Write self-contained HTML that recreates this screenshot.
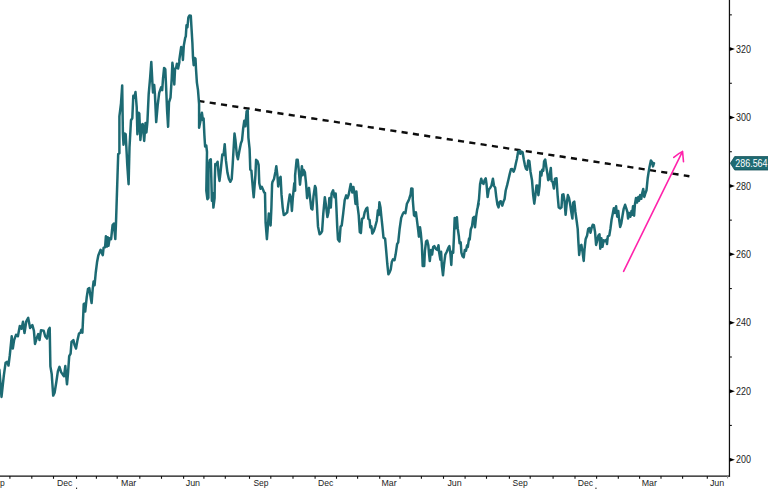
<!DOCTYPE html>
<html><head><meta charset="utf-8"><title>Chart</title>
<style>
html,body{margin:0;padding:0;background:#fff;}
body{width:768px;height:489px;overflow:hidden;position:relative;}
svg{display:block;position:absolute;left:0;top:0;}
text{font-family:"Liberation Sans","DejaVu Sans",sans-serif;font-size:9.8px;fill:#1c1c1c;}
</style></head><body>
<svg width="768" height="489" viewBox="0 0 768 489">
<defs><filter id="soft" x="-5%" y="-5%" width="110%" height="110%"><feGaussianBlur stdDeviation="0.45"/></filter></defs>
<rect width="768" height="489" fill="#ffffff"/>
<!-- axes -->
<line x1="729.45" y1="0" x2="729.45" y2="476.6" stroke="#111" stroke-width="1.25"/>
<line x1="0" y1="476.0" x2="730.0500000000001" y2="476.0" stroke="#111" stroke-width="1.25"/>
<!-- x ticks -->
<line x1="9.9" y1="476.0" x2="9.9" y2="478.8" stroke="#111" stroke-width="1.1"/>
<line x1="31.8" y1="476.0" x2="31.8" y2="478.8" stroke="#111" stroke-width="1.1"/>
<line x1="53.5" y1="476.0" x2="53.5" y2="478.8" stroke="#111" stroke-width="1.1"/>
<line x1="76.5" y1="476.0" x2="76.5" y2="478.8" stroke="#111" stroke-width="1.1"/>
<line x1="96.4" y1="476.0" x2="96.4" y2="478.8" stroke="#111" stroke-width="1.1"/>
<line x1="117.2" y1="476.0" x2="117.2" y2="478.8" stroke="#111" stroke-width="1.1"/>
<line x1="139.8" y1="476.0" x2="139.8" y2="478.8" stroke="#111" stroke-width="1.1"/>
<line x1="161.5" y1="476.0" x2="161.5" y2="478.8" stroke="#111" stroke-width="1.1"/>
<line x1="183.6" y1="476.0" x2="183.6" y2="478.8" stroke="#111" stroke-width="1.1"/>
<line x1="203.9" y1="476.0" x2="203.9" y2="478.8" stroke="#111" stroke-width="1.1"/>
<line x1="225.3" y1="476.0" x2="225.3" y2="478.8" stroke="#111" stroke-width="1.1"/>
<line x1="249.5" y1="476.0" x2="249.5" y2="478.8" stroke="#111" stroke-width="1.1"/>
<line x1="270.8" y1="476.0" x2="270.8" y2="478.8" stroke="#111" stroke-width="1.1"/>
<line x1="293" y1="476.0" x2="293" y2="478.8" stroke="#111" stroke-width="1.1"/>
<line x1="315.1" y1="476.0" x2="315.1" y2="478.8" stroke="#111" stroke-width="1.1"/>
<line x1="336.5" y1="476.0" x2="336.5" y2="478.8" stroke="#111" stroke-width="1.1"/>
<line x1="357.6" y1="476.0" x2="357.6" y2="478.8" stroke="#111" stroke-width="1.1"/>
<line x1="379.7" y1="476.0" x2="379.7" y2="478.8" stroke="#111" stroke-width="1.1"/>
<line x1="400" y1="476.0" x2="400" y2="478.8" stroke="#111" stroke-width="1.1"/>
<line x1="421.4" y1="476.0" x2="421.4" y2="478.8" stroke="#111" stroke-width="1.1"/>
<line x1="443.5" y1="476.0" x2="443.5" y2="478.8" stroke="#111" stroke-width="1.1"/>
<line x1="465.1" y1="476.0" x2="465.1" y2="478.8" stroke="#111" stroke-width="1.1"/>
<line x1="486.5" y1="476.0" x2="486.5" y2="478.8" stroke="#111" stroke-width="1.1"/>
<line x1="509.4" y1="476.0" x2="509.4" y2="478.8" stroke="#111" stroke-width="1.1"/>
<line x1="530.2" y1="476.0" x2="530.2" y2="478.8" stroke="#111" stroke-width="1.1"/>
<line x1="553.1" y1="476.0" x2="553.1" y2="478.8" stroke="#111" stroke-width="1.1"/>
<line x1="575" y1="476.0" x2="575" y2="478.8" stroke="#111" stroke-width="1.1"/>
<line x1="596.6" y1="476.0" x2="596.6" y2="478.8" stroke="#111" stroke-width="1.1"/>
<line x1="618.3" y1="476.0" x2="618.3" y2="478.8" stroke="#111" stroke-width="1.1"/>
<line x1="639.6" y1="476.0" x2="639.6" y2="478.8" stroke="#111" stroke-width="1.1"/>
<line x1="661" y1="476.0" x2="661" y2="478.8" stroke="#111" stroke-width="1.1"/>
<line x1="682.6" y1="476.0" x2="682.6" y2="478.8" stroke="#111" stroke-width="1.1"/>
<line x1="707.3" y1="476.0" x2="707.3" y2="478.8" stroke="#111" stroke-width="1.1"/>
<line x1="727.6" y1="476.0" x2="727.6" y2="478.4" stroke="#888" stroke-width="1"/>
<!-- x labels -->
<text x="-10.3" y="486.3" textLength="15.1" lengthAdjust="spacingAndGlyphs">Sep</text>
<text x="56.9" y="486.3" textLength="15.4" lengthAdjust="spacingAndGlyphs">Dec</text>
<text x="121.1" y="486.3" textLength="15.2" lengthAdjust="spacingAndGlyphs">Mar</text>
<text x="185.7" y="486.3" textLength="14.4" lengthAdjust="spacingAndGlyphs">Jun</text>
<text x="253.4" y="486.3" textLength="15.1" lengthAdjust="spacingAndGlyphs">Sep</text>
<text x="318" y="486.3" textLength="15.4" lengthAdjust="spacingAndGlyphs">Dec</text>
<text x="381.5" y="486.3" textLength="15.2" lengthAdjust="spacingAndGlyphs">Mar</text>
<text x="447.4" y="486.3" textLength="14.4" lengthAdjust="spacingAndGlyphs">Jun</text>
<text x="512.5" y="486.3" textLength="15.1" lengthAdjust="spacingAndGlyphs">Sep</text>
<text x="577.8" y="486.3" textLength="15.4" lengthAdjust="spacingAndGlyphs">Dec</text>
<text x="641.7" y="486.3" textLength="15.2" lengthAdjust="spacingAndGlyphs">Mar</text>
<text x="709.9" y="486.3" textLength="14.4" lengthAdjust="spacingAndGlyphs">Jun</text>
<!-- y ticks and labels -->
<path d="M729.45 457.65 L734.95 459.65 L729.45 461.65 Z" fill="#000"/>
<text x="736.0" y="463.30" textLength="14.9" lengthAdjust="spacingAndGlyphs" style="font-size:10.3px">200</text>
<path d="M729.45 389.22 L734.95 391.22 L729.45 393.22 Z" fill="#000"/>
<text x="736.0" y="394.87" textLength="14.9" lengthAdjust="spacingAndGlyphs" style="font-size:10.3px">220</text>
<path d="M729.45 320.79 L734.95 322.79 L729.45 324.79 Z" fill="#000"/>
<text x="736.0" y="326.44" textLength="14.9" lengthAdjust="spacingAndGlyphs" style="font-size:10.3px">240</text>
<path d="M729.45 252.36 L734.95 254.36 L729.45 256.36 Z" fill="#000"/>
<text x="736.0" y="258.01" textLength="14.9" lengthAdjust="spacingAndGlyphs" style="font-size:10.3px">260</text>
<path d="M729.45 183.93 L734.95 185.93 L729.45 187.93 Z" fill="#000"/>
<text x="736.0" y="189.58" textLength="14.9" lengthAdjust="spacingAndGlyphs" style="font-size:10.3px">280</text>
<path d="M729.45 115.50 L734.95 117.50 L729.45 119.50 Z" fill="#000"/>
<text x="736.0" y="121.15" textLength="14.9" lengthAdjust="spacingAndGlyphs" style="font-size:10.3px">300</text>
<path d="M729.45 47.07 L734.95 49.07 L729.45 51.07 Z" fill="#000"/>
<text x="736.0" y="52.72" textLength="14.9" lengthAdjust="spacingAndGlyphs" style="font-size:10.3px">320</text>
<line x1="729.45" y1="425.43" x2="731.85" y2="425.43" stroke="#111" stroke-width="1.1"/>
<line x1="729.45" y1="357.00" x2="731.85" y2="357.00" stroke="#111" stroke-width="1.1"/>
<line x1="729.45" y1="288.57" x2="731.85" y2="288.57" stroke="#111" stroke-width="1.1"/>
<line x1="729.45" y1="220.14" x2="731.85" y2="220.14" stroke="#111" stroke-width="1.1"/>
<line x1="729.45" y1="151.71" x2="731.85" y2="151.71" stroke="#111" stroke-width="1.1"/>
<line x1="729.45" y1="83.28" x2="731.85" y2="83.28" stroke="#111" stroke-width="1.1"/>
<line x1="729.45" y1="14.85" x2="731.85" y2="14.85" stroke="#111" stroke-width="1.1"/>
<rect x="76" y="487.6" width="1.1" height="1.4" fill="#333"/><rect x="595.4" y="487.6" width="1.1" height="1.4" fill="#333"/>
<!-- trend line -->
<line x1="198.4" y1="100.9" x2="689.4" y2="176.2" stroke="#0a0a0a" stroke-width="2.4" stroke-dasharray="6.1 5.32" filter="url(#soft)"/>
<!-- price series -->
<polyline fill="none" stroke="#1f6b73" stroke-width="2.5" stroke-linejoin="round" stroke-linecap="round" filter="url(#soft)" points="-0.6,369.8 1.5,396.9 3.8,375.9 5.6,362.7 7.1,361.7 8.5,365.5 9.8,355.2 11.7,336.3 12.8,348.6 14.1,340.1 16.0,334.8 17.9,336.3 19.8,326.0 21.6,328.8 23.0,321.7 24.5,333.0 26.3,321.3 28.2,317.9 30.1,327.9 32.4,325.1 33.9,330.7 35.0,343.9 36.7,338.2 38.2,334.1 39.5,340.1 41.0,330.3 43.7,330.7 45.2,336.3 47.0,338.6 48.5,329.8 49.7,327.9 50.4,366.4 51.7,374.0 53.2,395.6 54.6,392.8 56.4,381.5 57.9,371.1 59.5,366.8 61.1,372.1 63.0,374.9 64.0,376.2 65.3,366.1 67.0,384.3 68.1,372.1 69.2,356.1 70.6,353.7 71.5,342.0 73.4,340.1 74.5,344.8 76.0,348.6 77.5,340.1 79.0,333.5 80.5,332.6 81.3,329.8 82.4,332.6 83.3,313.8 83.7,304.0 84.4,303.6 85.2,311.5 86.7,297.4 88.0,289.0 89.3,288.0 90.4,295.6 91.6,303.1 92.7,289.0 93.6,281.4 94.6,285.2 95.7,273.0 97.0,262.6 98.3,255.5 100.6,249.8 101.7,252.8 102.8,255.1 103.6,247.6 105.1,247.2 105.9,236.3 107.0,246.6 107.7,237.2 108.5,245.7 109.6,238.2 111.1,239.1 112.6,225.0 113.9,223.5 115.3,239.1 116.0,222.8 118.2,154.1 119.4,153.2 119.4,116.4 121.0,103.3 122.2,85.4 122.9,133.4 123.5,144.7 124.6,133.4 125.7,134.3 127.3,165.4 128.6,184.2 129.5,147.5 131.0,120.2 132.3,118.3 133.3,95.7 134.4,97.6 135.5,92.0 136.7,107.0 137.4,134.3 138.5,112.7 139.3,113.6 140.4,140.0 141.7,124.9 142.7,124.0 144.2,140.9 145.5,123.0 146.4,132.4 147.4,122.1 148.7,93.9 150.2,76.9 151.3,61.9 152.5,84.5 153.0,92.4 154.2,85.0 154.9,93.9 156.2,122.1 157.7,105.2 159.2,92.9 161.1,87.3 162.2,90.1 163.0,78.8 164.1,67.9 165.3,69.4 166.0,84.5 167.1,110.8 168.1,126.8 169.0,102.3 170.5,97.6 171.7,78.8 172.4,62.8 173.5,71.3 174.3,84.5 175.0,69.4 176.2,67.5 176.9,63.8 178.1,68.5 179.4,61.9 179.3,60.0 181.2,46.9 182.1,48.2 182.9,60.0 183.8,45.6 185.2,37.7 185.8,36.4 186.5,25.3 187.4,27.3 188.4,17.4 189.5,15.5 190.8,15.7 191.3,24.6 192.4,43.0 193.0,57.4 193.7,65.2 194.7,58.0 195.5,58.7 196.0,69.0 196.9,82.6 198.0,90.1 199.1,104.2 199.1,127.7 200.6,120.2 201.9,112.7 202.9,120.2 203.6,118.3 204.4,135.3 205.1,146.5 206.3,145.6 207.0,152.0 206.3,190.7 207.4,199.2 208.4,197.8 208.5,167.7 209.7,160.2 210.8,159.3 211.6,188.8 211.9,200.8 212.7,192.9 213.4,207.6 214.6,198.2 214.8,179.0 215.3,164.0 216.4,164.9 217.6,161.7 218.7,175.3 219.5,180.9 220.6,171.5 222.3,154.6 223.6,154.9 224.7,144.2 225.9,160.2 227.4,172.4 228.9,179.0 230.4,181.8 231.7,179.0 232.6,165.9 233.8,145.2 234.5,133.5 235.5,140.5 236.8,154.6 237.9,159.3 239.4,150.8 240.9,143.3 242.0,140.5 243.2,128.2 244.3,120.7 245.4,126.3 246.6,111.3 247.7,110.3 248.4,137.6 249.6,148.9 250.3,169.6 251.4,170.6 252.9,188.8 253.7,197.3 254.8,183.2 255.4,175.3 256.1,159.8 257.5,161.1 258.6,164.9 259.3,183.2 260.5,188.8 261.8,186.9 263.1,189.7 264.2,192.6 265.0,192.9 265.6,222.7 266.9,239.2 268.0,224.6 268.8,213.6 269.9,214.2 270.6,225.5 271.4,207.6 272.1,184.1 272.5,181.8 274.0,179.0 275.5,171.5 276.3,166.2 277.4,175.3 278.2,186.5 279.3,179.0 280.6,176.8 281.5,194.4 282.7,207.6 283.8,215.1 285.3,214.2 287.2,212.3 288.3,203.9 289.8,194.4 291.0,198.2 291.9,211.0 292.8,198.2 294.3,183.2 295.1,190.7 295.1,175.3 296.6,159.8 297.7,159.8 298.9,171.5 300.0,184.7 300.9,175.3 301.9,166.2 302.6,175.3 303.7,170.0 304.9,172.4 306.0,182.8 307.1,198.2 308.3,188.8 309.0,187.9 310.1,198.2 311.3,208.6 312.4,209.5 313.5,196.3 315.0,186.0 315.8,187.9 316.9,205.7 318.0,226.4 319.6,234.3 321.1,233.0 322.1,231.1 323.3,213.3 324.8,197.3 325.9,204.8 327.4,217.0 328.5,212.3 329.3,198.2 330.1,197.8 330.8,207.6 331.6,193.5 333.1,190.3 334.6,197.3 335.7,193.5 336.4,207.6 337.2,226.4 338.0,239.6 339.5,241.5 340.6,226.4 341.7,225.5 343.2,213.3 344.7,200.1 346.2,195.4 347.4,198.2 348.5,195.4 349.6,189.8 350.7,184.1 352.3,192.6 353.4,186.9 354.5,193.5 355.5,203.9 356.4,191.6 357.5,205.7 358.7,215.2 359.8,232.1 360.9,233.0 362.0,218.9 363.5,218.0 364.7,212.3 366.2,208.6 367.3,207.6 368.4,218.9 369.6,219.9 370.3,227.4 371.4,226.4 372.3,233.5 373.8,231.0 375.3,226.3 376.8,220.7 377.9,210.3 378.7,215.1 379.4,202.3 380.5,207.5 381.3,216.0 382.4,226.3 383.5,237.6 385.1,238.6 386.2,250.8 387.3,264.0 388.4,274.3 389.6,272.4 390.7,269.6 391.8,262.1 393.0,259.3 394.5,260.2 395.6,254.6 397.1,244.2 398.2,242.3 399.7,228.2 401.2,217.9 402.7,214.1 403.9,212.2 405.4,213.2 406.9,203.8 408.4,200.9 409.1,199.2 410.6,194.5 411.3,188.4 412.5,188.8 412.8,200.1 414.0,215.2 414.8,216.0 415.9,212.2 417.0,220.7 418.2,230.1 418.9,236.7 420.0,227.3 420.8,232.9 421.9,245.2 422.7,265.9 424.2,265.9 424.9,250.8 426.1,241.4 427.2,240.5 428.3,245.2 429.1,254.6 429.8,261.1 431.0,249.9 432.1,254.6 433.2,247.0 434.3,246.1 435.9,248.9 437.4,249.9 438.5,245.2 439.2,252.7 440.4,259.8 441.1,251.7 441.9,265.9 443.0,275.3 444.1,264.0 445.3,254.6 446.8,251.7 448.3,248.0 449.4,246.1 450.5,254.6 451.3,264.9 452.0,251.7 453.2,252.7 453.9,237.6 454.7,217.9 455.8,228.2 456.9,217.3 457.7,228.2 458.8,235.7 459.6,243.3 460.7,242.3 461.4,252.7 462.6,256.4 463.7,257.4 464.8,249.9 466.0,250.8 467.1,245.2 467.8,247.0 469.0,238.6 469.7,239.5 470.8,229.2 472.0,226.3 473.1,217.9 474.2,216.9 475.0,227.3 476.1,216.9 477.2,209.4 478.7,203.8 477.8,206.5 479.0,199.0 480.1,183.9 481.2,178.7 482.4,183.0 483.5,183.9 484.6,180.2 485.7,178.3 486.5,183.9 487.6,197.1 488.8,189.6 490.3,187.7 491.4,185.8 492.9,178.7 494.0,185.8 495.2,187.7 496.3,197.1 497.4,204.6 498.5,207.4 499.7,201.8 500.8,201.2 502.3,205.6 503.4,201.8 504.6,199.0 505.7,190.5 507.2,184.9 508.3,180.2 509.8,173.6 511.0,169.2 512.1,168.9 513.6,171.7 514.7,168.9 515.9,163.2 517.0,158.5 518.1,151.6 519.6,151.0 520.4,153.8 521.5,151.6 522.6,152.3 523.8,159.5 524.9,165.1 526.0,168.9 527.1,169.8 528.3,160.4 529.4,161.3 530.5,171.7 532.0,180.2 533.2,195.2 534.3,203.7 535.4,195.2 536.5,185.4 537.7,185.8 538.4,195.2 539.6,185.8 540.3,171.7 541.4,175.5 542.2,169.8 543.3,170.7 544.1,161.3 545.2,159.5 546.3,167.0 547.5,174.5 548.2,180.2 549.3,179.2 550.1,172.6 550.8,167.9 551.6,181.1 552.7,182.0 553.9,188.6 555.0,178.7 556.5,178.3 557.6,195.2 558.7,207.4 560.3,208.4 561.5,207.3 562.3,194.7 563.4,194.3 564.5,200.7 565.6,214.8 566.8,202.6 567.9,195.1 569.0,197.9 570.2,204.5 571.3,212.0 572.4,218.6 573.2,202.6 574.3,201.6 575.4,212.0 576.6,220.5 577.7,228.9 578.4,242.1 579.2,254.9 580.3,245.9 581.4,244.9 582.6,252.4 583.7,260.9 584.5,249.6 585.6,239.3 587.1,235.5 588.2,228.9 589.4,228.0 590.5,232.7 591.6,228.0 592.7,224.8 593.9,225.2 595.0,231.7 596.1,244.9 597.3,240.2 598.4,235.5 599.5,234.2 600.3,248.7 601.4,238.3 602.5,246.8 603.7,240.2 605.2,241.1 606.3,239.8 607.0,244.0 607.8,236.4 609.3,235.5 610.4,228.9 611.6,219.5 612.7,213.9 613.8,208.2 614.9,212.9 616.1,206.3 617.2,216.7 618.3,211.0 619.1,219.5 620.2,227.0 621.3,223.3 622.5,215.7 623.6,209.2 625.1,204.8 626.2,208.2 627.4,212.0 628.1,218.6 629.2,212.9 630.4,216.7 631.5,211.0 632.2,214.8 633.0,206.3 634.1,215.7 634.9,204.5 636.0,197.9 637.1,202.6 638.3,196.9 639.0,200.7 640.2,195.1 641.3,198.8 642.0,194.1 643.2,189.0 644.3,196.9 645.4,193.2 646.5,190.3 646.8,187.4 647.7,178.2 648.5,173.0 649.6,166.4 650.9,160.5 652.2,162.5 653.0,166.4 654.0,163.1"/>
<!-- arrow -->
<path d="M623.6 271.3 L682.55 151.4 M673.8 157.4 Q678.5 153.4 682.55 151.4 L683.5 161.8" fill="none" stroke="#ff24ab" stroke-width="1.6" stroke-linecap="round" stroke-linejoin="round" filter="url(#soft)"/>
<!-- last value flag -->
<path d="M734.7 156.6 L769 156.6 L769 170 L734.7 170 L730.4 163.3 Z" fill="#1f6b73" stroke="#124e55" stroke-width="0.8"/>
<text x="735.3" y="166.9" textLength="32.2" lengthAdjust="spacingAndGlyphs" style="fill:#fff;font-size:10.3px">286.564</text>
</svg></body></html>
